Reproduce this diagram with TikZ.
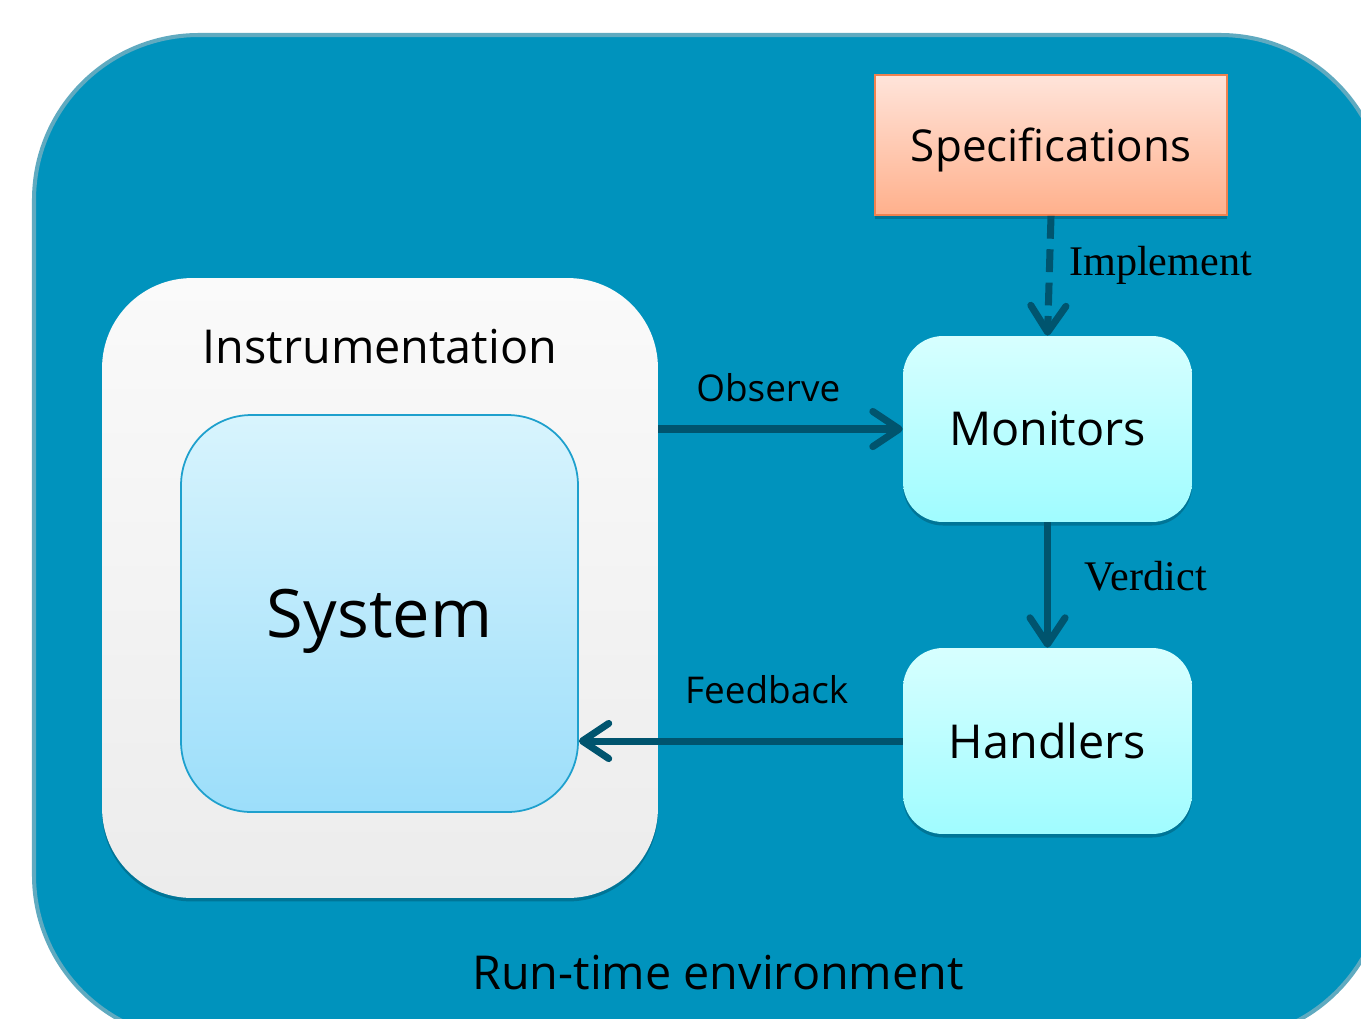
\documentclass[tikz,border=0pt]{standalone}
\usepackage{fontspec}
\setmainfont{Open Sans}
\newfontfamily\verbfont{Liberation Serif}
\usetikzlibrary{arrows.meta,shadows}

\definecolor{envblue}{RGB}{0,147,189}
\definecolor{envedge}{RGB}{96,170,192}
\definecolor{flowblue}{RGB}{0,84,110}
\definecolor{sysedge}{RGB}{30,160,205}
\definecolor{systop}{RGB}{216,244,253}
\definecolor{sysbottom}{RGB}{156,222,250}
\definecolor{montop}{RGB}{215,255,255}
\definecolor{monbottom}{RGB}{160,252,255}
\definecolor{spectop}{RGB}{255,228,218}
\definecolor{specbottom}{RGB}{255,176,140}
\definecolor{specedge}{RGB}{240,130,80}
\definecolor{insttop}{RGB}{250,250,250}
\definecolor{instbottom}{RGB}{236,236,236}

\tikzset{
  softshadow/.style={drop shadow={shadow xshift=0pt,shadow yshift=-2pt,opacity=0.2,fill=black}},
  instbox/.style={rounded corners=1.8cm, top color=insttop, bottom color=instbottom, softshadow, inner sep=0pt},
  sysbox/.style={rounded corners=1.4cm, draw=sysedge, line width=1pt, top color=systop, bottom color=sysbottom, inner sep=0pt, font=\fontsize{38}{44}\selectfont},
  specbox/.style={draw=specedge, line width=1pt, top color=spectop, bottom color=specbottom, softshadow, inner sep=0pt, font=\fontsize{25}{30}\selectfont},
  roundbox/.style={rounded corners=0.8cm, top color=montop, bottom color=monbottom, softshadow, inner sep=0pt, font=\fontsize{26.6}{32}\selectfont},
  conn/.style={draw=flowblue, line width=4pt, -{Straight Barb[length=15pt,width=20pt,round]}},
  sanslabel/.style={font=\fontsize{21}{25}\selectfont},
  seriflabel/.style={font=\verbfont\fontsize{24}{28}\selectfont}
}

\begin{document}
\begin{tikzpicture}[x=0.02cm,y=-0.02cm]
  \useasboundingbox (0,0) rectangle (1361,1018);
  \begin{scope}
    \clip (0,0) rectangle (1361,1018);
    \draw[envedge, fill=envblue, line width=2.3pt, rounded corners=3.3cm] (34,35) rectangle (1385,1040);
  \end{scope}

  % left side
  \node[instbox, minimum width=11.12cm, minimum height=12.4cm] (inst) at (380,588) {};
  \node[font=\fontsize{26.6}{32}\selectfont] (instlabel) at (380,347) {Instrumentation};
  \node[sysbox, minimum width=7.94cm, minimum height=7.94cm, text depth=-10pt] (sys) at (379.5,613.5) {System};

  % right side
  \node[specbox, minimum width=7.04cm, minimum height=2.8cm, text depth=-8pt] (spec) at (1051,145) {Specifications};
  \node[roundbox, minimum width=5.78cm, minimum height=3.72cm] (mon) at (1047.5,429) {Monitors};
  \node[roundbox, minimum width=5.78cm, minimum height=3.72cm] (hand) at (1047.5,741) {Handlers};

  \node[font=\fontsize{26.6}{32}\selectfont] (envlabel) at (718,973) {Run-time environment};

  \draw[conn, dash pattern=on 13pt off 6pt] (spec.south) -- node[right=6pt, yshift=6pt, seriflabel] {Implement} (mon.north);
  \draw[conn] (mon.west -| inst.east) -- node[pos=0.45, above=10pt, sanslabel] {Observe} (mon.west);
  \draw[conn] (mon.south) -- node[right=16pt, yshift=5pt, seriflabel] {Verdict} (hand.north);
  \draw[conn] (hand.west) -- node[pos=0.42, above=16pt, sanslabel] {Feedback} (hand.west -| sys.east);
\end{tikzpicture}
\end{document}
